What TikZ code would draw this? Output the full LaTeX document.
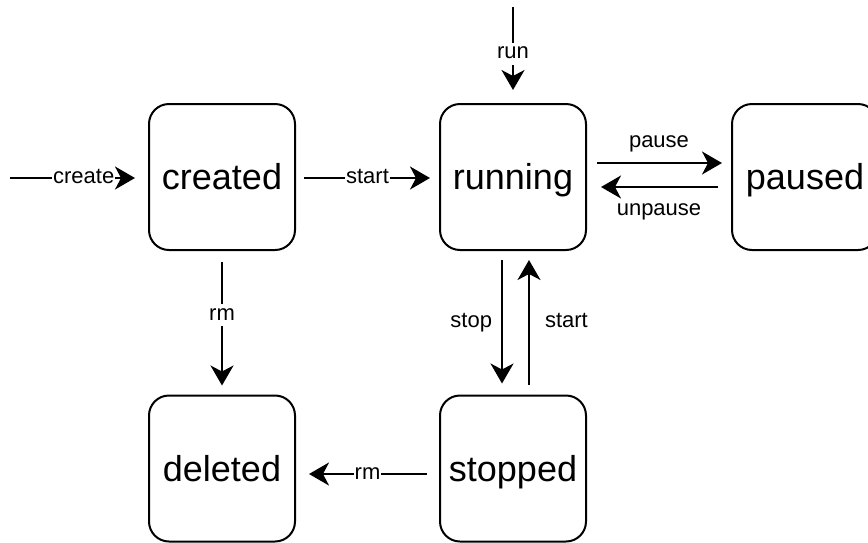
\documentclass[tikz,border=0pt]{standalone}
\usepackage{fontspec}
\setmainfont{Liberation Sans}
\usetikzlibrary{arrows.meta}
\begin{document}
\begin{tikzpicture}[x=1pt,y=-1pt,
  state/.style={draw=black, line width=2pt, rounded corners=20pt,
    minimum width=146pt, minimum height=146pt, outer sep=0pt, inner sep=0pt,
    text height=30pt, text depth=5pt,
    font=\fontsize{36}{40}\selectfont},
  trans/.style={line width=2pt,
    -{Stealth[length=20pt,width=23pt,inset=6pt]}},
  lbl/.style={fill=white, inner sep=1pt, font=\fontsize{22}{26}\selectfont,
    text height=15pt, text depth=5pt}]
\useasboundingbox (0,0) rectangle (868,542);
\clip (0,0) rectangle (868,542);

% states
\node[state] (created) at (222,177) {created};
\node[state] (running) at (513,177) {running};
\node[state] (paused)  at (805,177) {paused};
\node[state] (deleted) at (222,468.5) {deleted};
\node[state] (stopped) at (513,468.5) {stopped};

% free ends of the entry arrows
\coordinate (in-create) at (10,178);
\coordinate (in-run) at (513,7);

% transitions
\draw[trans, shorten >=14pt] (in-create) -- ([yshift=-1pt]created.west)
  node[lbl, pos=0.53] {create};
\draw[trans, shorten >=14pt] (in-run) -- (running.north)
  node[lbl, pos=0.48] {run};
\draw[trans, shorten <=9pt, shorten >=10pt] ([yshift=-1pt]created.east) -- ([yshift=-1pt]running.west)
  node[lbl, midway] {start};
\draw[trans, shorten <=11pt, shorten >=10pt] ([yshift=14pt]running.east) -- ([yshift=14pt]paused.west)
  node[lbl, fill=none, midway, yshift=21pt] {pause};
\draw[trans, shorten <=14pt, shorten >=15pt] ([yshift=-10pt]paused.west) -- ([yshift=-10pt]running.east)
  node[lbl, fill=none, midway, yshift=-23pt] {unpause};
\draw[trans, shorten <=10pt, shorten >=12pt] ([xshift=-11pt]running.south) -- ([xshift=-11pt]stopped.north)
  node[lbl, fill=none, midway, left=8pt] {stop};
\draw[trans, shorten <=11pt, shorten >=10pt] ([xshift=16pt]stopped.north) -- ([xshift=16pt]running.south)
  node[lbl, fill=none, midway, right=14pt] {start};
\draw[trans, shorten <=12pt, shorten >=10pt] (created.south) -- (deleted.north)
  node[lbl, pos=0.45] {rm};
\draw[trans, shorten <=13pt, shorten >=14pt] ([yshift=-5.5pt]stopped.west) -- ([yshift=-5.5pt]deleted.east)
  node[lbl, midway] {rm};
\end{tikzpicture}
\end{document}
